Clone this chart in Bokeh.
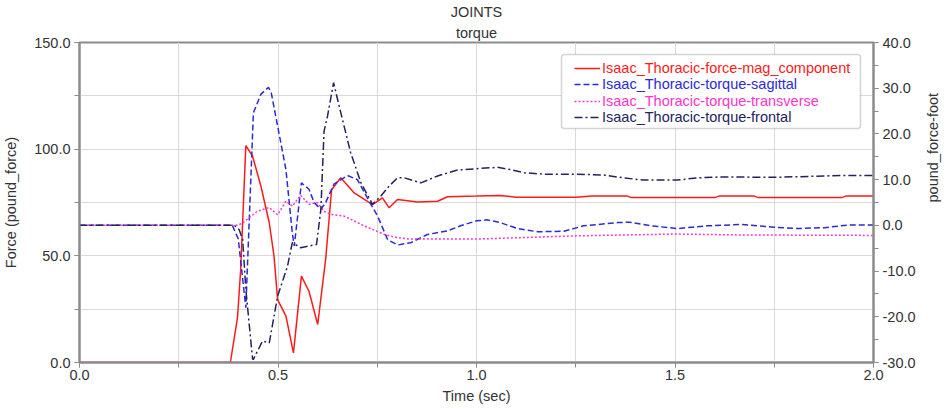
import math
from bokeh.plotting import figure
from bokeh.models import (Range1d, LinearAxis, SingleIntervalTicker, PrintfTickFormatter,
                          Legend, LegendItem, BoxAnnotation, Title)
from bokeh.embed import file_html
from bokeh.resources import INLINE

# ---- data ----
force_t = [0.0, 0.38, 0.398, 0.406, 0.419, 0.436, 0.457, 0.478, 0.49, 0.499, 0.52, 0.539,
           0.559, 0.578, 0.60, 0.62, 0.635, 0.658, 0.692, 0.738, 0.763, 0.78, 0.801, 0.851,
           0.902, 0.927, 1.0, 1.06, 1.1, 1.25, 1.29, 1.38, 1.39, 1.6, 1.61, 1.70, 1.71,
           1.92, 1.93, 2.0]
force_v = [0, 0, 21, 43.6, 101.7, 96.7, 82.6, 65.5, 49.8, 29.5, 21.7, 4.5,
           40.5, 33.4, 17.8, 48.3, 81, 86.6, 79.5, 74, 77.2, 72.5, 76.4, 75.2,
           75.6, 77.7, 78, 78.3, 77.5, 77.5, 78, 78, 77.3, 77.3, 78, 78, 77.3,
           77.3, 78, 78]

sag_t = [0.0, 0.385, 0.40, 0.419, 0.438, 0.457, 0.476, 0.483, 0.52, 0.536, 0.541, 0.559,
         0.578, 0.591, 0.608, 0.62, 0.641, 0.675, 0.70, 0.725, 0.751, 0.776, 0.801, 0.834,
         0.876, 0.927, 0.96, 1.0, 1.028, 1.06, 1.103, 1.154, 1.22, 1.27, 1.355, 1.385,
         1.44, 1.506, 1.582, 1.666, 1.75, 1.81, 1.876, 1.94, 2.0]
sag_v = [0, 0, -3, -18, 24.6, 28.7, 30.2, 29, 12.2, -1.6, -4.5, 9.3,
         7.9, 5.0, 3.5, 5, 9, 10.9, 10, 6, 2, -3.1, -4.3, -3.8,
         -2, -1.2, -0.1, 1, 1.2, 0.6, -0.7, -1.4, -1.3, -0.1, 0.6, 0.7,
         -0.1, -0.7, -0.1, 0.2, -0.4, -0.7, -0.5, 0.1, 0.1]

trans_t = [0.0, 0.398, 0.412, 0.448, 0.478, 0.499, 0.52, 0.536, 0.557, 0.578, 0.599, 0.616,
           0.633, 0.667, 0.717, 0.768, 0.801, 0.83, 1.0, 1.25, 1.5, 1.67, 2.0]
trans_v = [0, 0, 0.6, 3.1, 3.9, 2.3, 5.3, 4.2, 6.6, 4.6, 5, 3.1,
           2.4, 2, -0.1, -2, -2.7, -3, -3, -2.3, -1.9, -2.1, -2.2]

front_t = [0.0, 0.39, 0.402, 0.411, 0.419, 0.436, 0.438, 0.461, 0.478, 0.499, 0.524, 0.536,
           0.557, 0.578, 0.597, 0.608, 0.616, 0.625, 0.64, 0.658, 0.683, 0.709, 0.738, 0.759,
           0.78, 0.801, 0.818, 0.86, 0.902, 0.952, 1.0, 1.053, 1.086, 1.12, 1.17, 1.254,
           1.32, 1.37, 1.42, 1.506, 1.556, 1.623, 1.75, 1.92, 2.0]
front_v = [0, 0, -0.9, -3.1, -14, -29.3, -29.3, -25.3, -25.7, -15.5, -8.9, -3.8,
           -4.9, -4.5, -4.2, 3.5, 20.6, 24, 31.2, 24.7, 15.9, 9.3, 4.6, 6.4,
           8.6, 10.4, 10.4, 9.3, 10.8, 12.1, 12.4, 12.7, 12.2, 11.5, 11.2, 11.2,
           11.0, 10.4, 9.9, 9.9, 10.4, 10.6, 10.5, 10.9, 10.9]

series_names = ["Isaac_Thoracic-force-mag_component", "Isaac_Thoracic-torque-sagittal",
                "Isaac_Thoracic-torque-transverse", "Isaac_Thoracic-torque-frontal"]

# ---- styles ----
FONT = "Liberation Sans"
FS = "14.5px"
TXT = "#333333"
AX = "#8c8c8c"
colors = ["#ff1a1a", "#2a2ad8", "#ff33cc", "#23235e"]
dashes = ["solid", "6 3", "2 2", "8 3 2 3"]

p = figure(frame_width=794, frame_height=320, x_range=Range1d(0, 2), y_range=Range1d(0, 150),
           output_backend="svg", toolbar_location=None, title="JOINTS",
           min_border_left=74, min_border_right=67, min_border_top=35, min_border_bottom=38)
p.extra_y_ranges = {"torque": Range1d(-30, 40)}
p.background_fill_color = "white"
p.border_fill_color = "white"
p.outline_line_color = AX
p.outline_line_width = 2

p.title.align = "center"
p.title.text_font = FONT
p.title.text_font_size = FS
p.title.text_font_style = "normal"
p.title.text_color = TXT
p.title.standoff = 2
p.add_layout(Title(text="torque", align="center", text_font=FONT, text_font_size=FS,
                   text_font_style="normal", text_color=TXT, standoff=4), "above")

right_axis = LinearAxis(y_range_name="torque")
p.add_layout(right_axis, "right")


def style_axis(ax, interval, label):
    ax.ticker = SingleIntervalTicker(interval=interval, num_minor_ticks=2)
    ax.formatter = PrintfTickFormatter(format="%.1f")
    ax.axis_label = label
    ax.axis_label_text_font = FONT
    ax.axis_label_text_font_size = FS
    ax.axis_label_text_font_style = "normal"
    ax.axis_label_text_color = TXT
    ax.major_label_text_font = FONT
    ax.major_label_text_font_size = FS
    ax.major_label_text_color = TXT
    ax.major_label_standoff = 4
    ax.axis_line_color = AX
    ax.axis_line_width = 2
    ax.major_tick_line_color = AX
    ax.minor_tick_line_color = AX
    ax.major_tick_out = 5
    ax.major_tick_in = 0
    ax.minor_tick_out = 5
    ax.minor_tick_in = 0


style_axis(p.xaxis[0], 0.5, "Time (sec)")
style_axis(p.yaxis[0], 50, "Force (pound_force)")
style_axis(right_axis, 10, "pound_force-foot")
p.xaxis[0].major_label_standoff = 2
p.xaxis[0].axis_label_standoff = 5
p.yaxis[0].axis_label_standoff = 12
right_axis.axis_label_standoff = 14
right_axis.axis_label_orientation = math.pi / 2

p.xgrid.ticker = SingleIntervalTicker(interval=0.25)
p.ygrid.ticker = SingleIntervalTicker(interval=25)
for g in (p.xgrid[0], p.ygrid[0]):
    g.grid_line_color = "#d9d9d9"
    g.grid_line_width = 1

renderers = []
renderers.append(p.line(force_t, force_v, line_color=colors[0], line_width=1.5,
                        line_dash=dashes[0]))
renderers.append(p.line(sag_t, sag_v, line_color=colors[1], line_width=1.5,
                        line_dash=dashes[1], y_range_name="torque"))
renderers.append(p.line(trans_t, trans_v, line_color=colors[2], line_width=1.5,
                        line_dash=dashes[2], y_range_name="torque"))
renderers.append(p.line(front_t, front_v, line_color=colors[3], line_width=1.5,
                        line_dash=dashes[3], y_range_name="torque"))

# legend frame
box = BoxAnnotation(left=482, right=781, bottom=234, top=308,
                    left_units="screen", right_units="screen",
                    bottom_units="screen", top_units="screen",
                    fill_color="white", fill_alpha=1.0,
                    line_color="#6e6e6e", line_width=1.5, border_radius=3)
p.add_layout(box)

legend_y = [286, 270, 253, 237]
for name, col, r, vy in zip(series_names, colors, renderers, legend_y):
    leg = Legend(items=[LegendItem(label=name, renderers=[r])], location=(495, vy),
                 border_line_alpha=0, background_fill_alpha=0, padding=0, margin=0,
                 spacing=0, label_standoff=2, glyph_width=26, glyph_height=14,
                 label_height=14, label_text_font=FONT, label_text_font_size=FS,
                 label_text_color=col)
    p.add_layout(leg)

open("out.html", "w").write(file_html(p, INLINE))
